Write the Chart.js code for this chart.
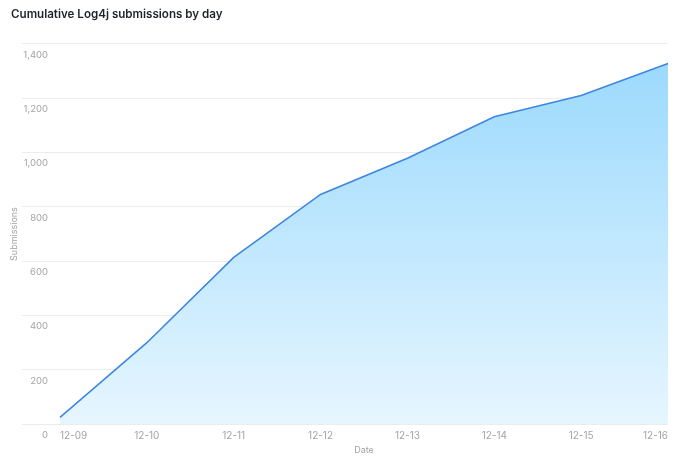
<!DOCTYPE html>
<html>
<head>
<meta charset="utf-8">
<style>
  html, body { margin: 0; padding: 0; background: #ffffff; }
  #wrap { width: 680px; height: 466px; }
</style>
<script src="https://cdn.jsdelivr.net/npm/chart.js@4/dist/chart.umd.min.js"></script>
</head>
<body>
<div id="wrap"><canvas id="c" width="680" height="466"></canvas></div>
<script>
const categories = ["12-09", "12-10", "12-11", "12-12", "12-13", "12-14", "12-15", "12-16"];
const submissions = [25, 300, 614, 846, 979, 1132, 1210, 1328];
const yMax = 1400;
const yStep = 200;

const tickColor = "#a3a3a3";
const gridColor = "#ececec";

const ctx = document.getElementById("c").getContext("2d");
new Chart(ctx, {
  type: "line",
  data: {
    labels: categories,
    datasets: [{
      label: "Submissions",
      data: submissions,
      borderColor: "#3f87de",
      borderWidth: 1.6,
      pointRadius: 0,
      pointHoverRadius: 0,
      tension: 0,
      fill: "origin",
      backgroundColor: function (context) {
        const chart = context.chart;
        const area = chart.chartArea;
        if (!area) return "rgba(160,220,253,0.8)";
        const g = chart.ctx.createLinearGradient(0, area.top, 0, area.bottom);
        g.addColorStop(0, "rgb(152,216,253)");
        g.addColorStop(1, "rgb(230,246,255)");
        return g;
      }
    }]
  },
  options: {
    responsive: false,
    animation: false,
    devicePixelRatio: 1,
    layout: { padding: { left: 11, right: 12, top: 0, bottom: 1 } },
    plugins: {
      legend: { display: false },
      tooltip: { enabled: false },
      title: {
        display: true,
        text: "Cumulative Log4j submissions by day",
        align: "start",
        color: "#1f2329",
        font: { family: "Inter", size: 11.6, weight: "600" },
        padding: { top: 8, bottom: 22 }
      }
    },
    scales: {
      x: {
        type: "category",
        grid: { display: false, drawTicks: false },
        border: { display: false },
        ticks: {
          align: "inner",
          color: tickColor,
          font: { family: "Inter", size: 10 },
          padding: 6,
          maxRotation: 0,
          autoSkip: false
        },
        title: {
          display: true,
          text: "Date",
          color: tickColor,
          font: { family: "Inter", size: 9 },
          padding: { top: -3, bottom: 9 }
        }
      },
      y: {
        min: 0,
        max: yMax,
        afterFit: function (scale) { scale.width = 49; },
        grid: { color: gridColor, tickLength: 38, tickColor: gridColor, lineWidth: 1 },
        border: { display: false },
        ticks: {
          stepSize: yStep,
          color: tickColor,
          font: { family: "Inter", size: 9.5 },
          padding: -26,
          labelOffset: 11,
          callback: function (v) { return Number(v).toLocaleString("en-US"); }
        },
        title: {
          display: true,
          text: "Submissions",
          color: tickColor,
          font: { family: "Inter", size: 9 },
          padding: { top: -2, bottom: 4 }
        }
      }
    }
  }
});
</script>
</body>
</html>
